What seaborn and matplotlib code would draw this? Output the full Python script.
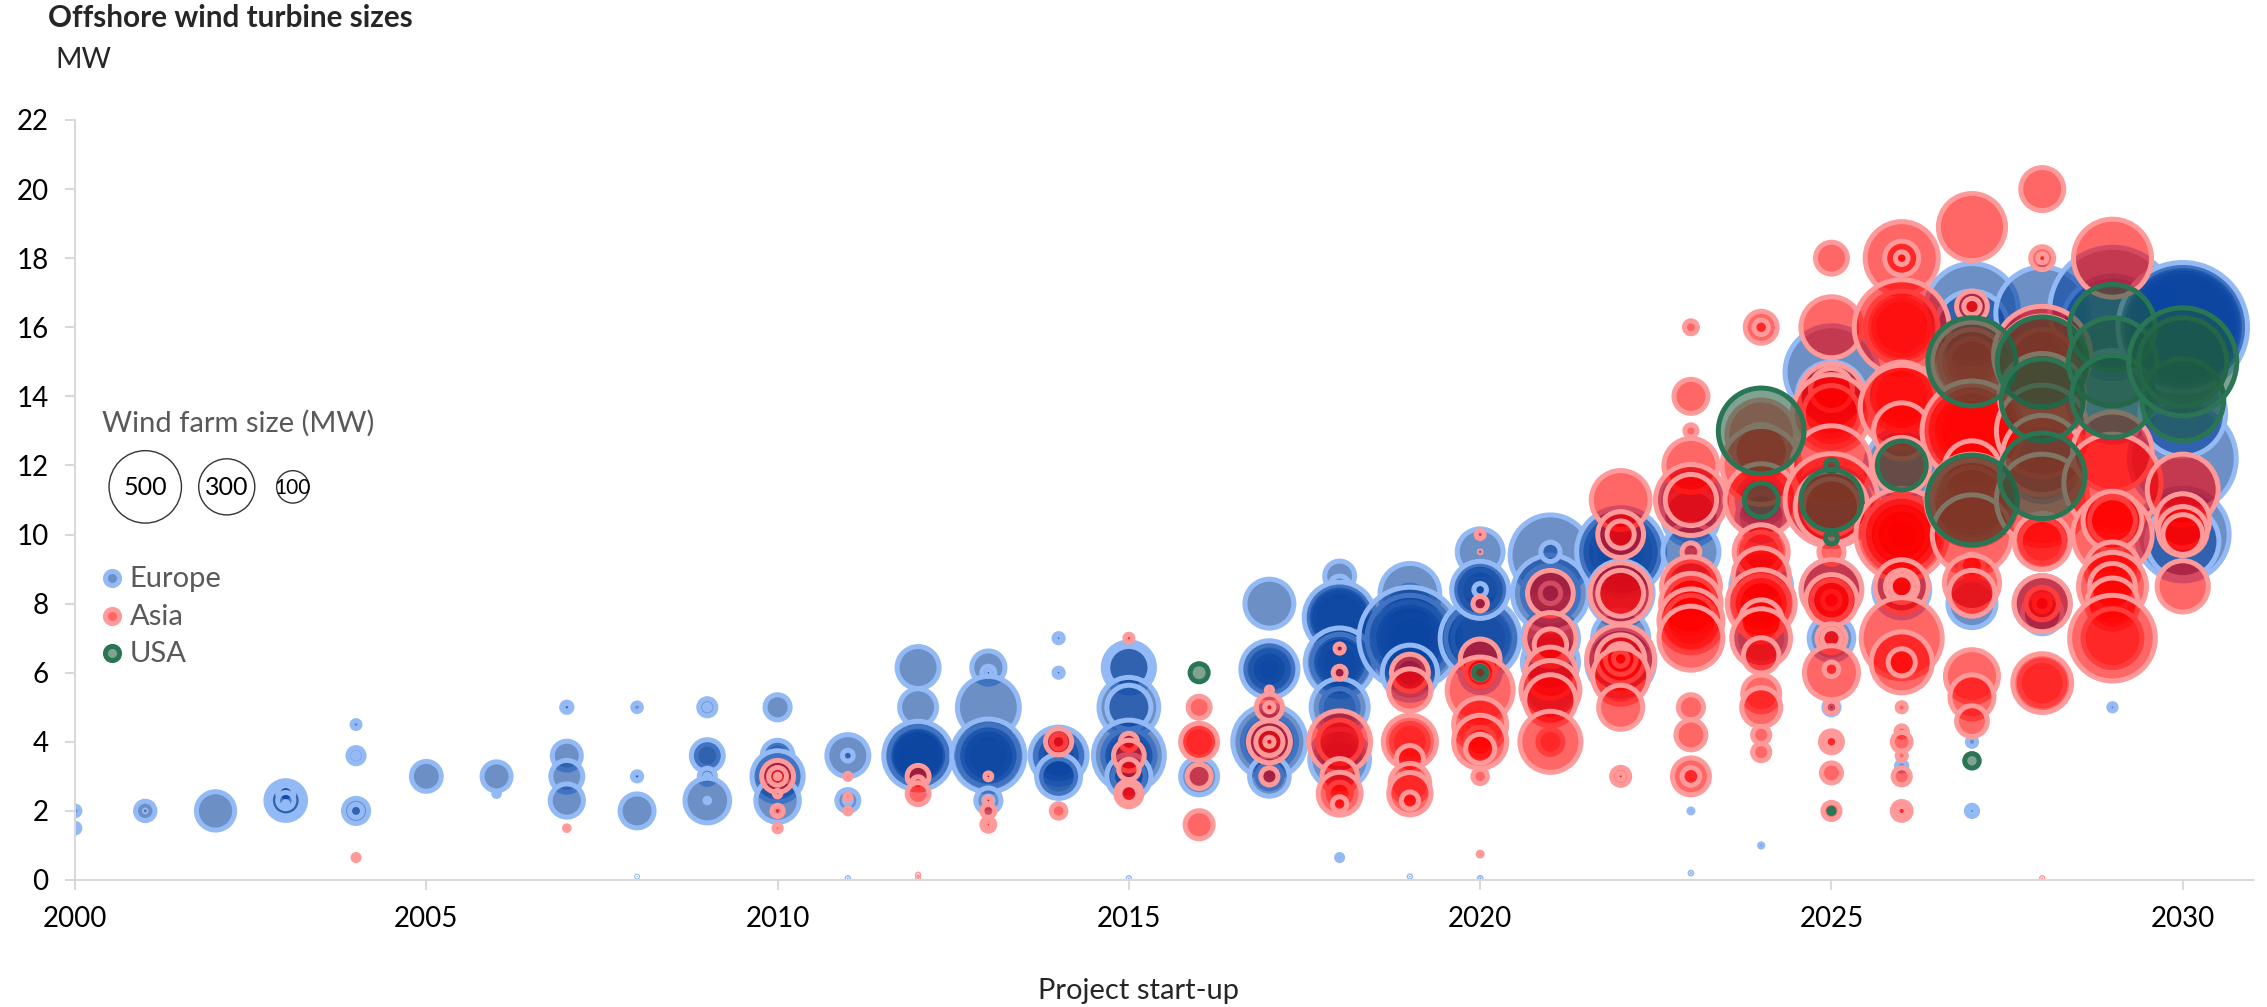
import pandas as pd
import matplotlib
matplotlib.use("Agg")
import matplotlib.pyplot as plt
import seaborn as sns

# (start-up year, turbine size MW, wind farm size MW)
europe = [
    (2000, 2, 9), (2000, 1.5, 9), (2000, 1.5, 0.5),
    (2001, 2, 36), (2001, 2, 0.3),
    (2002, 2, 140),
    (2003, 2.3, 150), (2003, 2.3, 90), (2003, 2.5, 25), (2003, 2.3, 25), (2003, 2.2, 2),
    (2004, 4.5, 6), (2004, 4.5, 0.1), (2004, 3.6, 25), (2004, 3.6, 3), (2004, 2, 60), (2004, 2, 16),
    (2005, 3, 85),
    (2006, 2.5, 3), (2006, 3, 80),
    (2007, 5, 10), (2007, 5, 0.5), (2007, 3.6, 80), (2007, 3, 97), (2007, 2.3, 105),
    (2008, 5, 7), (2008, 3, 8), (2008, 3, 0.5), (2008, 2, 110), (2008, 0.1, 0.1),
    (2009, 5, 28), (2009, 5, 3), (2009, 3.6, 50), (2009, 3.6, 97), (2009, 3, 25), (2009, 3, 2),
    (2009, 2.3, 190), (2009, 2.3, 2),
    (2010, 5, 60), (2010, 3.6, 60), (2010, 3.6, 90), (2010, 3, 160), (2010, 3, 250), (2010, 2.3, 180),
    (2011, 3.6, 168), (2011, 3.6, 11), (2011, 2.3, 46), (2011, 2.3, 5), (2011, 0.05, 0.2),
    (2012, 6.15, 168), (2012, 5, 130), (2012, 3.6, 170), (2012, 3.6, 260), (2012, 3.6, 290),
    (2012, 3.6, 330), (2012, 3.6, 450),
    (2013, 6.15, 105), (2013, 6, 16), (2013, 6, 1), (2013, 5, 365), (2013, 3.6, 170), (2013, 3.6, 270),
    (2013, 3.6, 360), (2013, 3.6, 510), (2013, 2.3, 60), (2013, 2.3, 8),
    (2014, 7, 8), (2014, 7, 1), (2014, 6, 8), (2014, 6, 1), (2014, 3.6, 120), (2014, 3.6, 200),
    (2014, 3.6, 310), (2014, 3, 120), (2014, 3, 185),
    (2015, 6.15, 250), (2015, 6.15, 170), (2015, 5, 340), (2015, 5, 185), (2015, 3.6, 200),
    (2015, 3.6, 260), (2015, 3.6, 480), (2015, 3, 100), (2015, 3, 185), (2015, 0.05, 0.2),
    (2016, 3, 130),
    (2017, 8, 228), (2017, 6.1, 60), (2017, 6.1, 130), (2017, 6.1, 230), (2017, 6.1, 310),
    (2017, 4, 130), (2017, 4, 280), (2017, 4, 510), (2017, 3, 60), (2017, 3, 150),
    (2018, 8.8, 85), (2018, 8.5, 40), (2018, 7.6, 260), (2018, 7.6, 350), (2018, 7.6, 400), (2018, 7.6, 480),
    (2018, 6.3, 130), (2018, 6.3, 250), (2018, 6.3, 300), (2018, 6.3, 450),
    (2018, 5, 130), (2018, 5, 310), (2018, 3.5, 150), (2018, 3.5, 340), (2018, 0.65, 3.5),
    (2019, 8, 130), (2019, 8.3, 340), (2019, 7, 110), (2019, 7, 200), (2019, 7, 400), (2019, 7, 500),
    (2019, 7, 700), (2019, 7, 990), (2019, 6, 80), (2019, 6, 290), (2019, 0.1, 0.2),
    (2020, 9.5, 200), (2020, 6, 150), (2020, 7, 290), (2020, 7, 450), (2020, 7, 610), (2020, 8.4, 150),
    (2020, 8.4, 250), (2020, 8.4, 310), (2020, 8.4, 15), (2020, 0.05, 0.3),
    (2021, 9.4, 620), (2021, 5.6, 300), (2021, 6.3, 300), (2021, 7, 300), (2021, 8.3, 300), (2021, 8.3, 550),
    (2021, 9.5, 35), (2021, 8.3, 40),
    (2022, 9.5, 170), (2022, 9.5, 450), (2022, 9.5, 600), (2022, 9.5, 740), (2022, 8.3, 400), (2022, 7, 300),
    (2022, 6.3, 440),
    (2023, 11, 400), (2023, 10.5, 300), (2023, 9.5, 300), (2023, 2, 1.5), (2023, 0.2, 0.3),
    (2024, 11, 220), (2024, 10.5, 220), (2024, 8.5, 350), (2024, 7, 250), (2024, 1, 1),
    (2025, 14.7, 820), (2025, 14, 450), (2025, 10.8, 600), (2025, 8.4, 350), (2025, 7, 190), (2025, 5, 22),
    (2025, 5, 0.3),
    (2026, 12, 500), (2026, 10, 500), (2026, 8.4, 300), (2026, 3.3, 10),
    (2027, 16.5, 820), (2027, 16, 500), (2027, 8, 220), (2027, 4, 8), (2027, 2, 12), (2027, 2, 1),
    (2028, 15, 700), (2028, 16.4, 820), (2028, 8, 300), (2028, 7.7, 150), (2028, 12, 500),
    (2029, 16, 1000), (2029, 16.5, 1500), (2029, 14, 800), (2029, 5, 5),
    (2030, 10, 820), (2030, 9.8, 500), (2030, 12.2, 1090), (2030, 13.5, 700),
    (2030, 16, 1000), (2030, 16, 1200), (2030, 16, 1350), (2030, 16, 1450), (2030, 16, 1600),
]

asia = [
    (2004, 0.65, 3.5),
    (2007, 1.5, 2),
    (2010, 3, 97), (2010, 3, 30), (2010, 3, 2), (2010, 2.5, 4), (2010, 2, 12), (2010, 2, 0.1), (2010, 1.5, 5),
    (2011, 3, 3.5), (2011, 2.4, 3.5), (2011, 2, 3.5),
    (2012, 3, 46), (2012, 2.8, 16), (2012, 2.5, 46), (2012, 0.05, 0.2), (2012, 0.15, 0.2),
    (2013, 3, 4.5), (2013, 2.3, 4.5), (2013, 2, 16), (2013, 1.6, 16), (2013, 1.6, 1),
    (2014, 4, 20), (2014, 4, 65), (2014, 2, 20),
    (2015, 7, 6), (2015, 7, 0.3), (2015, 4, 28), (2015, 3.6, 90), (2015, 3.2, 40), (2015, 2.5, 65), (2015, 2.5, 30),
    (2016, 5, 46), (2016, 4, 90), (2016, 4, 130), (2016, 3, 55), (2016, 1.6, 75),
    (2017, 5.5, 3.5), (2017, 5, 65), (2017, 5, 8), (2017, 4, 168), (2017, 4, 70), (2017, 4, 8), (2017, 3, 28),
    (2018, 6.7, 8), (2018, 6, 16), (2018, 4, 180), (2018, 4, 365), (2018, 3, 120), (2018, 2.5, 50),
    (2018, 2.5, 175), (2018, 2.2, 20),
    (2019, 6, 130), (2019, 5.5, 170), (2019, 4, 130), (2019, 4, 268), (2019, 3.5, 70), (2019, 2.8, 150),
    (2019, 2.5, 170), (2019, 2.3, 28),
    (2020, 8, 20), (2020, 6.4, 150), (2020, 6, 80), (2020, 6, 20), (2020, 5.5, 415), (2020, 4.5, 268),
    (2020, 4, 80), (2020, 4, 268), (2020, 3.8, 80), (2020, 3, 20), (2020, 0.75, 1.5), (2020, 10, 6), (2020, 9.5, 0.3),
    (2021, 8.3, 200), (2021, 7, 250), (2021, 6.8, 100), (2021, 6, 250), (2021, 5.5, 330), (2021, 5.2, 250),
    (2021, 4, 60), (2021, 4, 355),
    (2022, 11, 330), (2022, 10, 200), (2022, 10, 70), (2022, 8.3, 355), (2022, 8.3, 200), (2022, 6.4, 440),
    (2022, 6.4, 220), (2022, 6.4, 90), (2022, 6.4, 20), (2022, 5.9, 300), (2022, 5, 185), (2022, 3, 31), (2022, 3, 5),
    (2023, 16, 16), (2023, 14, 110), (2023, 13, 14), (2023, 12, 278), (2023, 11, 480), (2023, 11, 250),
    (2023, 9.5, 30), (2023, 8.5, 250), (2023, 8.5, 330), (2023, 8, 250), (2023, 8, 350), (2023, 7.5, 250),
    (2023, 7.5, 390), (2023, 7, 390), (2023, 5, 60), (2023, 4.2, 85), (2023, 3, 130), (2023, 3, 30),
    (2024, 16, 97), (2024, 16, 20), (2024, 12.9, 450), (2024, 12.4, 280), (2024, 12, 580), (2024, 11, 500),
    (2024, 9.5, 150), (2024, 9.5, 278), (2024, 8.8, 300), (2024, 8, 200), (2024, 8, 300), (2024, 8, 440),
    (2024, 7.5, 170), (2024, 7, 330), (2024, 6.5, 120), (2024, 5.4, 130), (2024, 5, 145), (2024, 4.2, 28), (2024, 3.7, 28),
    (2025, 18, 97), (2025, 16, 355), (2025, 14, 400), (2025, 14.2, 168), (2025, 13.5, 300), (2025, 13.5, 580),
    (2025, 12, 600), (2025, 11, 820), (2025, 10.8, 300), (2025, 10.8, 500), (2025, 9.5, 60), (2025, 8.4, 350),
    (2025, 8.1, 30), (2025, 8.1, 150), (2025, 8.1, 250), (2025, 7, 80),
    (2025, 7, 35), (2025, 6, 278), (2025, 6.1, 20), (2025, 5, 15), (2025, 4, 46), (2025, 4, 15), (2025, 3.1, 38),
    (2025, 2, 28),
    (2026, 18, 510), (2026, 18, 110), (2026, 18, 15), (2026, 16, 300), (2026, 16, 500), (2026, 16, 860),
    (2026, 14, 300), (2026, 14, 450), (2026, 13.7, 655), (2026, 13, 300), (2026, 12, 300), (2026, 10, 100),
    (2026, 10, 250), (2026, 10, 400), (2026, 10, 560), (2026, 10, 800),
    (2026, 8.5, 270), (2026, 8.5, 100), (2026, 8.5, 50), (2026, 7, 625), (2026, 6.3, 355), (2026, 6.3, 70),
    (2026, 5, 8), (2026, 4.3, 12), (2026, 4, 34), (2026, 3.6, 8), (2026, 3, 28), (2026, 2, 34), (2026, 2, 8),
    (2027, 18.9, 430), (2027, 16.6, 90), (2027, 16.6, 25), (2027, 15, 200), (2027, 15, 400), (2027, 15, 600),
    (2027, 13, 400), (2027, 13, 600), (2027, 13, 800), (2027, 13, 950), (2027, 11.9, 300), (2027, 11, 400),
    (2027, 11, 600), (2027, 11, 800), (2027, 10, 600), (2027, 9.1, 50), (2027, 8.6, 290), (2027, 8.3, 200),
    (2027, 5.9, 268), (2027, 5.3, 185), (2027, 4.6, 90),
    (2028, 20, 176), (2028, 18, 50), (2028, 18, 8), (2028, 15, 400), (2028, 15.2, 900), (2028, 15, 800),
    (2028, 14, 700), (2028, 13, 800), (2028, 12.3, 600), (2028, 11, 800), (2028, 9.8, 185), (2028, 9.8, 300),
    (2028, 8, 25), (2028, 8, 100), (2028, 8, 300), (2028, 5.7, 200), (2028, 5.7, 330), (2028, 0.05, 0.2),
    (2029, 18, 580), (2029, 12.4, 600), (2029, 11.5, 900), (2029, 10, 600), (2029, 10.4, 200), (2029, 10.4, 330),
    (2029, 9, 280), (2029, 8.5, 440), (2029, 8.5, 200), (2029, 8, 250), (2029, 7, 330), (2029, 7, 700),
    (2030, 11.3, 480), (2030, 10.4, 278), (2030, 10.1, 228), (2030, 10, 150), (2030, 8.5, 250),
]

usa = [
    (2016, 6, 31),
    (2020, 6, 16),
    (2024, 13, 700), (2024, 11, 110),
    (2025, 12, 14), (2025, 11, 355), (2025, 9.9, 14), (2025, 2, 2.5),
    (2026, 12, 228),
    (2027, 15, 740), (2027, 11, 770), (2027, 3.45, 20),
    (2028, 15, 770), (2028, 13.9, 640), (2028, 11.7, 700),
    (2029, 16, 700), (2029, 15, 740), (2029, 14, 640),
    (2030, 13.9, 640), (2030, 15, 740), (2030, 15, 1110),
]

x_ticks = [2000, 2005, 2010, 2015, 2020, 2025, 2030]
y_ticks = list(range(0, 24, 2))
legend_farm = [500, 300, 100]

europe_fill, europe_rim = (0.04, 0.27, 0.63, 0.6), "#93BAF5"
asia_fill, asia_rim = (1.0, 0.0, 0.0, 0.6), "#FF9A9A"
usa_fill, usa_rim = (0.12, 0.36, 0.25, 0.57), "#2A7553"

MAX_FARM = 1700
PT2_PER_MW = 5.44
RIM = 3.6

sns.set_style("white")
plt.rcParams["font.family"] = ["Lato", "DejaVu Sans"]

fig = plt.figure(figsize=(22.67, 10.07), dpi=100)
ax = fig.add_axes([75 / 2267, 1 - 880 / 1007, (2253 - 75) / 2267, (880 - 120) / 1007])


def bubbles(points, fill, rim, lw=RIM):
    df = pd.DataFrame(points, columns=["year", "mw", "farm"])
    sns.scatterplot(data=df, x="year", y="mw", size="farm",
                    sizes=(0, MAX_FARM * PT2_PER_MW), size_norm=(0, MAX_FARM),
                    color=fill, edgecolor=rim, linewidth=lw, legend=False, ax=ax)


bubbles(europe, europe_fill, europe_rim)
bubbles(asia, asia_fill, asia_rim)
bubbles(usa, usa_fill, usa_rim)

# size key and region key
bubbles([(2001.0, 11.38, legend_farm[0]), (2002.16, 11.38, legend_farm[1]), (2003.1, 11.38, legend_farm[2])],
        (1, 1, 1, 0), "#333333", lw=1.0)
for xp, farm in zip([2001.0, 2002.16, 2003.1], legend_farm):
    ax.text(xp, 11.36, str(farm), ha="center", va="center", color="black",
            fontsize=18 if farm > 100 else 15)
ax.text(2000.39, 13.22, "Wind farm size (MW)", color="#595959", fontsize=21, va="center")

bubbles([(2000.53, 8.74, 19)], europe_fill, europe_rim)
bubbles([(2000.53, 7.65, 19)], asia_fill, asia_rim)
bubbles([(2000.53, 6.57, 19)], usa_fill, usa_rim)
for yp, name in zip([8.7, 7.62, 6.54], ["Europe", "Asia", "USA"]):
    ax.text(2000.78, yp, name, color="#595959", fontsize=21, va="center")

ax.set_xlim(2000, 2031)
ax.set_ylim(0, 22)
ax.set_xticks(x_ticks)
ax.set_yticks(y_ticks)
ax.set_xlabel("")
ax.set_ylabel("")
ax.tick_params(axis="both", length=7, width=1.5, color="#D9D9D9", labelsize=20, labelcolor="black",
               bottom=True, left=True, pad=12)
sns.despine(ax=ax)
for side in ["left", "bottom"]:
    ax.spines[side].set_color("#D9D9D9")
    ax.spines[side].set_linewidth(1.5)

fig.text(48 / 2267, 1 - 18 / 1007, "Offshore wind turbine sizes", fontsize=21.4, fontweight="bold", va="center")
fig.text(55 / 2267, 1 - 60 / 1007, "MW", fontsize=20.5, va="center")
fig.text(1138 / 2267, 1 - 991 / 1007, "Project start-up", fontsize=21, ha="center", va="center")

fig.savefig("out.png", dpi=100)
